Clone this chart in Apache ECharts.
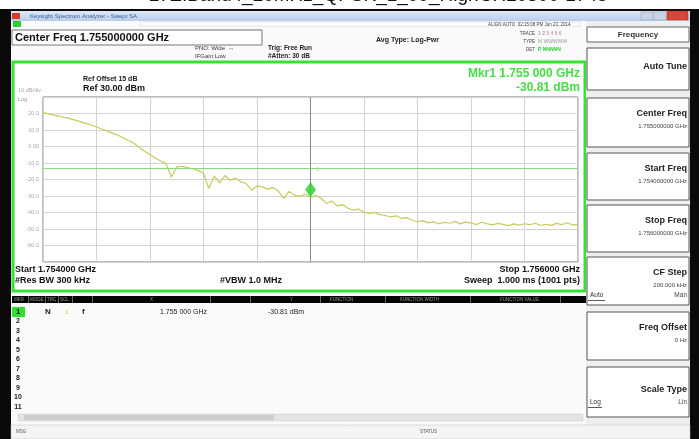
<!DOCTYPE html>
<html>
<head>
<meta charset="utf-8">
<title>LTE Band4 spectrum</title>
<script src="https://cdn.jsdelivr.net/npm/echarts@6/dist/echarts.min.js"></script>
<style>
  html, body { margin: 0; padding: 0; background: #fff; }
  #main { width: 699px; height: 439px; }
</style>
</head>
<body>
<div id="main"></div>
<script>
// sweep settings (MHz) and trace 1, 101 points
var sweepStart = 1754, sweepStop = 1756;
var trace1 = [
  20.5, 19.8, 19.0, 18.4, 17.6, 16.9, 16.0, 15.1, 14.0, 13.0,
  11.8, 10.6, 9.5, 8.1, 6.8, 5.3, 3.6, 2.0, -0.6, -2.9,
  -4.8, -7.0, -8.8, -10.4, -18.5, -12.3, -12.0, -12.8, -13.5, -14.6,
  -16.2, -25.5, -17.8, -22.0, -17.6, -20.5, -19.2, -21.4, -22.6, -26.5,
  -23.9, -24.5, -25.8, -24.9, -27.1, -31.5, -27.2, -29.6, -30.2, -28.9,
  -30.81, -29.7, -31.5, -34.5, -33.0, -36.0, -35.2, -37.4, -38.6, -38.0,
  -39.8, -40.5, -39.9, -41.3, -41.8, -42.7, -42.0, -43.6, -43.1, -44.7,
  -45.6, -44.9, -46.3, -45.7, -46.8, -46.0, -46.5, -45.4, -46.9, -45.8,
  -46.4, -47.3, -45.9, -46.8, -47.5, -46.6, -47.2, -48.0, -46.9, -47.7,
  -46.8, -47.4, -46.5, -47.9, -47.1, -47.8, -46.6, -47.3, -46.2, -47.6,
  -47.0
];
var marker1 = [1755, -30.81];
var displayLine = -13;
var refLevel = 30, dbPerDiv = 10;
var yTickLabels = { '20': '20.0', '10': '10.0', '0': '0.00', '-10': '-10.0', '-20': '-20.0',
  '-30': '-30.0', '-40': '-40.0', '-50': '-50.0', '-60': '-60.0' };
var softkeys = [
  { y: 48, h: 42, title: 'Auto Tune', sub: '' },
  { y: 98, h: 49, title: 'Center Freq', sub: '1.755000000 GHz' },
  { y: 153, h: 47, title: 'Start Freq', sub: '1.754000000 GHz' },
  { y: 205, h: 47, title: 'Stop Freq', sub: '1.756000000 GHz' },
  { y: 257, h: 48, title: 'CF Step', sub: '200.000 kHz' },
  { y: 312, h: 48, title: 'Freq Offset', sub: '0 Hz' },
  { y: 367, h: 50, title: 'Scale Type', sub: '' }
];

var chart = echarts.init(document.getElementById('main'));

var step = (sweepStop - sweepStart) / (trace1.length - 1);
var traceData = trace1.map(function (v, i) { return [sweepStart + i * step, v]; });

var FONT = 'Liberation Sans, Arial, sans-serif';
function rect(x, y, w, h, fill, stroke, lw, z) {
  return { type: 'rect', z: z || 0, shape: { x: x, y: y, width: w, height: h },
    style: { fill: fill || 'none', stroke: stroke || 'none', lineWidth: lw || 1 }, silent: true };
}
function txt(x, y, s, size, color, align, weight, z) {
  return { type: 'text', z: z || 5, x: x, y: y, silent: true,
    style: { text: s, font: (weight || 'bold') + ' ' + size + 'px ' + FONT, fill: color || '#111',
      textAlign: align || 'left', textVerticalAlign: 'middle' } };
}

var g = [];
// window chrome
g.push(rect(0, 0, 699, 439, '#ffffff', null, 1, -20));
g.push(txt(378, -4, 'LTE.Band4_20MHz_QPSK_1_99_HighCH20300-1745', 19, '#111', 'center', 'normal'));
g.push(rect(0, 9, 699, 430, '#0a0a0a', null, 1, -19));
g.push({ type: 'rect', z: -18, silent: true, shape: { x: 11, y: 11, width: 679, height: 10 },
  style: { fill: new echarts.graphic.LinearGradient(0, 0, 0, 1, [
    { offset: 0, color: '#dfe9f7' }, { offset: 1, color: '#b9cde9' }]) } });
g.push(rect(12, 13, 8, 6, '#d23a2a', null, 1, -17));
g.push(txt(30, 16, 'Keysight Spectrum Analyzer - Swept SA', 6, '#3a5a9a', 'left', 'normal'));
g.push(rect(641, 12, 12, 8, '#c8d4e6', '#8899bb', 0.5, -17));
g.push(rect(654, 12, 12, 8, '#c8d4e6', '#8899bb', 0.5, -17));
g.push(rect(667, 11, 21, 9, '#d9453a', '#a02a20', 0.5, -17));
g.push(rect(11, 21, 575, 404, '#fafafa', null, 1, -18));
g.push(rect(13, 21, 8, 6, '#2bd12b', null, 1, -17));
g.push(rect(140, 22, 440, 4, '#ffffff', '#cccccc', 0.5, -17));
// top status row
g.push(rect(12, 30, 250, 15, '#ffffff', '#777777', 1, -16));
g.push(txt(15, 38, 'Center Freq 1.755000000 GHz', 11, '#111'));
g.push(txt(195, 48, 'PNO: Wide  \u2194', 6, '#333', 'left', 'normal'));
g.push(txt(195, 56, 'IFGain:Low', 6, '#333', 'left', 'normal'));
g.push(txt(268, 48, 'Trig: Free Run', 6.5, '#222'));
g.push(txt(268, 56, '#Atten: 30 dB', 6.5, '#222'));
g.push(txt(376, 40, 'Avg Type: Log-Pwr', 7, '#222'));
g.push(txt(488, 25, 'ALIGN AUTO  02:15:08 PM Jun 23, 2014', 4.5, '#444', 'left', 'normal'));
g.push(txt(535, 34, 'TRACE', 4.5, '#444', 'right', 'normal'));
g.push(txt(538, 34, '1 2 3 4 5 6', 5, '#c9a' , 'left', 'bold'));
g.push(txt(535, 42, 'TYPE', 4.5, '#444', 'right', 'normal'));
g.push(txt(538, 42, 'M WWWWW', 5, '#999', 'left', 'normal'));
g.push(txt(535, 50, 'DET', 4.5, '#444', 'right', 'normal'));
g.push(txt(538, 50, 'P NNNNN', 5, '#3c3', 'left', 'bold'));
// green measurement frame
g.push(rect(13, 62, 572, 229, '#ffffff', '#37e237', 3, -15));
g.push(txt(83, 79, 'Ref Offset 15 dB', 7, '#222'));
g.push(txt(83, 89, 'Ref 30.00 dBm', 9, '#111'));
g.push(txt(18, 90, '10 dB/div', 5.5, '#aaa', 'left', 'normal'));
g.push(txt(18, 99, 'Log', 5.5, '#999', 'left', 'normal'));
g.push(txt(580, 74, 'Mkr1 1.755 000 GHz', 12, '#45dd45', 'right'));
g.push(txt(580, 88, '-30.81 dBm', 12, '#45dd45', 'right'));
g.push(txt(15, 270, 'Start 1.754000 GHz', 9, '#111'));
g.push(txt(580, 270, 'Stop 1.756000 GHz', 9, '#111', 'right'));
g.push(txt(15, 281, '#Res BW 300 kHz', 9, '#111'));
g.push(txt(220, 281, '#VBW 1.0 MHz', 9, '#111'));
g.push(txt(580, 281, 'Sweep  1.000 ms (1001 pts)', 9, '#111', 'right'));
// marker table
g.push(rect(12, 296, 574, 7, '#050505', null, 1, -14));
[['MKR', 14], ['MODE', 30], ['TRC', 47], ['SCL', 60], ['X', 150], ['Y', 290],
 ['FUNCTION', 330], ['FUNCTION WIDTH', 400], ['FUNCTION VALUE', 500]].forEach(function (c) {
  g.push(txt(c[1], 299.5, c[0], 4.5, '#9a9a9a', 'left', 'normal'));
});
[28, 45, 58, 72, 92, 210, 250, 320, 385, 470, 560].forEach(function (x) {
  g.push(rect(x, 296, 1, 7, '#666', null, 1, -13));
});
g.push(rect(12, 307, 13, 10, '#2fe02f', null, 1, -13));
g.push(txt(16, 312, '1', 8, '#111'));
g.push(txt(45, 312, 'N', 8, '#222'));
g.push(txt(65, 312, '1', 6, '#d4c040', 'left', 'normal'));
g.push(txt(82, 312, 'f', 8, '#222'));
g.push(txt(160, 312, '1.755 000 GHz', 7, '#222', 'left', 'normal'));
g.push(txt(268, 312, '-30.81 dBm', 7, '#222', 'left', 'normal'));
for (var r = 2; r <= 11; r++) {
  g.push(txt(18, 312 + (r - 1) * 9.5, String(r), 7, '#222', 'center'));
}
g.push(rect(18, 414, 565, 7, '#e4e4e4', '#cfcfcf', 0.5, -13));
g.push(rect(24, 415, 250, 5, '#cdcdcd', null, 1, -12));
g.push(rect(11, 425, 679, 14, '#f4f4f4', '#bdbdbd', 0.5, -13));
g.push(txt(16, 432, 'MSG', 4.5, '#555', 'left', 'normal'));
g.push(txt(420, 432, 'STATUS', 4.5, '#555', 'left', 'normal'));
// softkey panel
g.push(rect(586, 21, 104, 404, '#efefef', null, 1, -14));
g.push(rect(587, 27, 102, 15, '#ffffff', '#666', 1, -13));
g.push(txt(638, 34.5, 'Frequency', 8, '#333', 'center'));
softkeys.forEach(function (k) {
  g.push(rect(587, k.y, 102, k.h, '#ffffff', '#555', 1, -13));
  var ty = k.sub ? k.y + 16 : k.y + k.h / 2 - 2;
  g.push(txt(687, ty, k.title, 9, '#222', 'right'));
  if (k.sub) g.push(txt(687, k.y + 28, k.sub, 6, '#444', 'right', 'normal'));
});
g.push(txt(590, 295, 'Auto', 6.5, '#333', 'left', 'normal'));
g.push(txt(687, 295, 'Man', 6.5, '#444', 'right', 'normal'));
g.push(rect(588, 300, 17, 0.8, '#333', null, 1, -12));
g.push(txt(590, 402, 'Log', 6.5, '#333', 'left', 'normal'));
g.push(txt(687, 402, 'Lin', 6.5, '#444', 'right', 'normal'));
g.push(rect(588, 407, 14, 0.8, '#333', null, 1, -12));

var option = {
  animation: false,
  backgroundColor: '#ffffff',
  graphic: { elements: g },
  grid: { left: 43, top: 97, width: 535, height: 165, show: true,
    backgroundColor: '#ffffff', borderColor: '#7a7a7a', borderWidth: 1 },
  xAxis: {
    type: 'value', min: sweepStart, max: sweepStop, interval: 0.2,
    axisLine: { show: false }, axisTick: { show: false }, axisLabel: { show: false },
    splitLine: { lineStyle: { color: '#d2d2d2', width: 1 } }
  },
  yAxis: {
    type: 'value', min: refLevel - 10 * dbPerDiv, max: refLevel, interval: dbPerDiv,
    axisLine: { show: false }, axisTick: { show: false },
    axisLabel: { margin: 4, fontSize: 5.5, color: '#a8a8a8', fontFamily: FONT,
      formatter: function (v) { return yTickLabels[String(v)] || ''; } },
    splitLine: { lineStyle: { color: '#d2d2d2', width: 1 } }
  },
  series: [
    {
      name: 'Trace 1', type: 'line', data: traceData, symbol: 'none', z: 3,
      lineStyle: { color: '#c9c95c', width: 1.2 },
      markLine: {
        silent: true, symbol: 'none', label: { show: false },
        lineStyle: { color: '#7fe07f', width: 1, type: 'solid' },
        data: [{ yAxis: displayLine }]
      }
    },
    {
      name: 'Center', type: 'line', symbol: 'none', z: 2,
      data: [[1755, refLevel], [1755, refLevel - 10 * dbPerDiv]],
      lineStyle: { color: '#8a8a8a', width: 1 }
    },
    {
      name: 'Mkr1', type: 'scatter', data: [marker1], z: 5,
      symbol: 'path://M5,0 L10,7 L5,14 L0,7 Z', symbolSize: [11, 15], symbolOffset: [0, '-50%'],
      itemStyle: { color: '#22d022' },
      label: { show: true, formatter: '1', position: [11, -16], fontSize: 6, color: '#c9b84a' }
    }
  ]
};
chart.setOption(option);
</script>
</body>
</html>
